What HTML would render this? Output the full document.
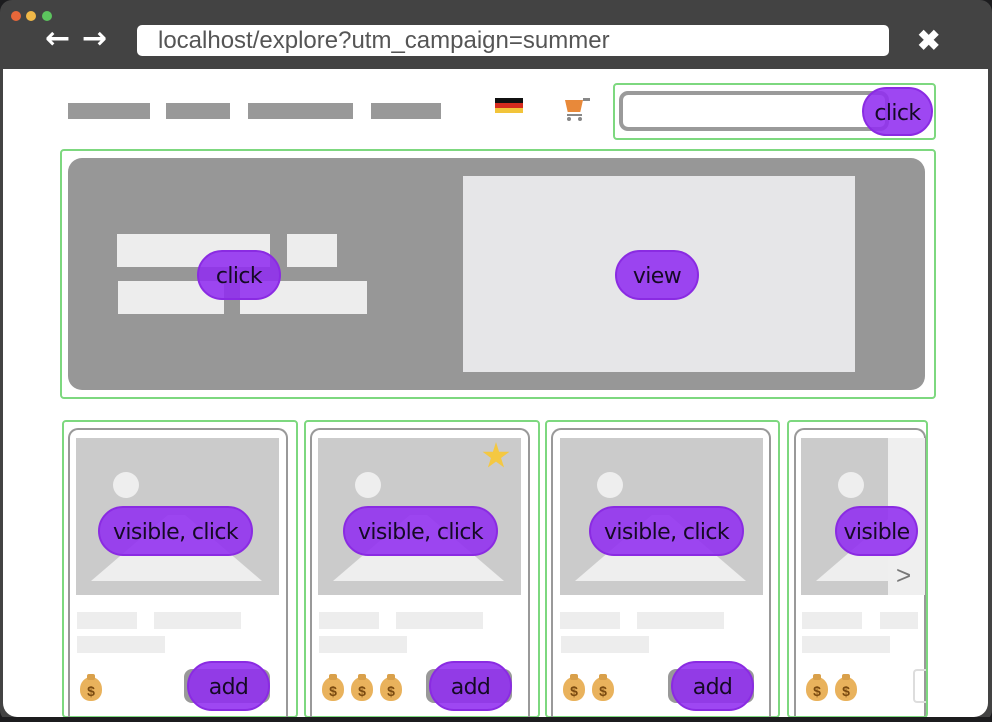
<!DOCTYPE html>
<html><head><meta charset="utf-8"><style>
*{margin:0;padding:0;box-sizing:border-box}
body{width:992px;height:722px;background:#1c1c1e;position:relative;overflow:hidden;font-family:"Liberation Sans",sans-serif}
div,span{position:absolute}
.g{border:2px solid #7dd87f;border-radius:4px}
.bar{background:#999}
.lt{background:#ededed}
.card{border:2px solid #999;border-bottom:none;border-radius:10px 10px 0 0;height:290px}
.pill{background:rgba(145,45,240,0.88);border:2px solid #8a2be2;border-radius:26px;color:#150a25;font-family:"DejaVu Sans","Liberation Sans",sans-serif;font-size:22px;display:flex;align-items:center;justify-content:center;letter-spacing:-0.6px;padding-top:3px}
.bag{width:22px;height:24px;background:#e9b25c;border-radius:50% 50% 45% 45%;color:#7a4a10;font-size:14px;font-weight:bold;display:flex;align-items:center;justify-content:center;padding-top:4px}
.bag:before{content:"";position:absolute;top:-3px;left:7px;width:8px;height:6px;background:#d9a04a;border-radius:2px}
.arr{color:#fff;font-size:30px;font-weight:bold;font-family:"DejaVu Sans",sans-serif}
</style></head><body>
<div style="left:0;top:0;width:992px;height:722px;background:#434343;border-radius:12px"></div>
<div style="left:11px;top:11px;width:10px;height:10px;border-radius:50%;background:#e8673a"></div>
<div style="left:26px;top:11px;width:10px;height:10px;border-radius:50%;background:#f0b848"></div>
<div style="left:42px;top:11px;width:10px;height:10px;border-radius:50%;background:#5cc45e"></div>
<div class="arr" style="left:45px;top:21px">&#8592;</div>
<div class="arr" style="left:82px;top:21px">&#8594;</div>
<div style="left:137px;top:25px;width:752px;height:31px;background:#fff;border-radius:5px"></div>
<div style="left:158px;top:27px;color:#555;font-size:24px">localhost/explore?utm_campaign=summer</div>
<div style="left:917px;top:24px;color:#fff;font-size:28px;font-weight:bold">&#10006;</div>
<div style="left:3px;top:69px;width:985px;height:648px;background:#fff;border-radius:0 0 14px 14px"></div>

<div class="bar" style="left:68px;top:103px;width:82px;height:16px"></div>
<div class="bar" style="left:166px;top:103px;width:64px;height:16px"></div>
<div class="bar" style="left:248px;top:103px;width:105px;height:16px"></div>
<div class="bar" style="left:371px;top:103px;width:70px;height:16px"></div>
<div style="left:495px;top:98px;width:28px;height:5px;background:#111"></div>
<div style="left:495px;top:103px;width:28px;height:5px;background:#d62b1e"></div>
<div style="left:495px;top:108px;width:28px;height:5px;background:#f2c43a"></div>
<div style="left:565px;top:100px;width:18px;height:12px;background:#e8893a;clip-path:polygon(0 0,100% 0,85% 100%,15% 100%)"></div>
<div style="left:583px;top:98px;width:7px;height:3px;background:#888"></div>
<div style="left:567px;top:114px;width:15px;height:2px;background:#888"></div>
<div style="left:567px;top:117px;width:4px;height:4px;border-radius:50%;background:#888"></div>
<div style="left:578px;top:117px;width:4px;height:4px;border-radius:50%;background:#888"></div>

<div class="g" style="left:613px;top:83px;width:323px;height:57px"></div>
<div style="left:619px;top:91px;width:270px;height:40px;border:4px solid #9a9a9a;border-radius:9px"></div>
<div class="pill" style="left:862px;top:87px;width:71px;height:49px">click</div>

<div class="g" style="left:60px;top:149px;width:876px;height:250px"></div>
<div style="left:68px;top:158px;width:857px;height:232px;background:#979797;border-radius:14px"></div>
<div style="left:463px;top:176px;width:392px;height:196px;background:#e6e6e8"></div>
<div class="lt" style="left:117px;top:234px;width:153px;height:33px"></div>
<div class="lt" style="left:287px;top:234px;width:50px;height:33px"></div>
<div class="lt" style="left:118px;top:281px;width:106px;height:33px"></div>
<div class="lt" style="left:240px;top:281px;width:127px;height:33px"></div>
<div class="pill" style="left:197px;top:250px;width:84px;height:50px">click</div>
<div class="pill" style="left:615px;top:250px;width:84px;height:50px">view</div>

<!-- card 1 -->
<div class="g" style="left:62px;top:420px;width:236px;height:298px"></div>
<div class="card" style="left:68px;top:428px;width:220px"></div>
<div style="left:76px;top:438px;width:203px;height:157px;background:#cbcbcb"></div>
<div style="left:113px;top:472px;width:26px;height:26px;border-radius:50%;background:#eee"></div>
<div style="left:91px;top:515px;width:171px;height:66px;background:#eee;clip-path:polygon(0 100%,45% 0,55% 0,100% 100%)"></div>
<div class="lt" style="left:77px;top:612px;width:60px;height:17px"></div>
<div class="lt" style="left:154px;top:612px;width:87px;height:17px"></div>
<div class="lt" style="left:77px;top:636px;width:88px;height:17px"></div>
<div class="bag" style="left:80px;top:677px">$</div>
<div style="left:184px;top:669px;width:86px;height:34px;background:#999;border-radius:8px"></div>
<div class="pill" style="left:187px;top:661px;width:83px;height:50px">add</div>
<div class="pill" style="left:98px;top:506px;width:155px;height:50px">visible, click</div>

<!-- card 2 -->
<div class="g" style="left:304px;top:420px;width:236px;height:298px"></div>
<div class="card" style="left:310px;top:428px;width:220px"></div>
<div style="left:318px;top:438px;width:203px;height:157px;background:#cbcbcb"></div>
<div style="left:355px;top:472px;width:26px;height:26px;border-radius:50%;background:#eee"></div>
<div style="left:333px;top:515px;width:171px;height:66px;background:#eee;clip-path:polygon(0 100%,45% 0,55% 0,100% 100%)"></div>
<div style="left:482px;top:442px;width:28px;height:28px;background:#f4c842;clip-path:polygon(50% 0,61% 35%,98% 35%,68% 57%,79% 91%,50% 70%,21% 91%,32% 57%,2% 35%,39% 35%)"></div>
<div class="lt" style="left:319px;top:612px;width:60px;height:17px"></div>
<div class="lt" style="left:396px;top:612px;width:87px;height:17px"></div>
<div class="lt" style="left:319px;top:636px;width:88px;height:17px"></div>
<div class="bag" style="left:322px;top:677px">$</div>
<div class="bag" style="left:351px;top:677px">$</div>
<div class="bag" style="left:380px;top:677px">$</div>
<div style="left:426px;top:669px;width:86px;height:34px;background:#999;border-radius:8px"></div>
<div class="pill" style="left:429px;top:661px;width:83px;height:50px">add</div>
<div class="pill" style="left:343px;top:506px;width:155px;height:50px">visible, click</div>

<!-- card 3 -->
<div class="g" style="left:545px;top:420px;width:235px;height:298px"></div>
<div class="card" style="left:551px;top:428px;width:220px"></div>
<div style="left:560px;top:438px;width:203px;height:157px;background:#cbcbcb"></div>
<div style="left:597px;top:472px;width:26px;height:26px;border-radius:50%;background:#eee"></div>
<div style="left:575px;top:515px;width:171px;height:66px;background:#eee;clip-path:polygon(0 100%,45% 0,55% 0,100% 100%)"></div>
<div class="lt" style="left:560px;top:612px;width:60px;height:17px"></div>
<div class="lt" style="left:637px;top:612px;width:87px;height:17px"></div>
<div class="lt" style="left:561px;top:636px;width:88px;height:17px"></div>
<div class="bag" style="left:563px;top:677px">$</div>
<div class="bag" style="left:592px;top:677px">$</div>
<div style="left:668px;top:669px;width:86px;height:34px;background:#999;border-radius:8px"></div>
<div class="pill" style="left:671px;top:661px;width:83px;height:50px">add</div>
<div class="pill" style="left:589px;top:506px;width:155px;height:50px">visible, click</div>

<!-- card 4 -->
<div class="card" style="left:794px;top:428px;width:132px"></div>
<div style="left:801px;top:438px;width:124px;height:157px;background:#cbcbcb;overflow:hidden">
  <div style="left:37px;top:34px;width:26px;height:26px;border-radius:50%;background:#eee"></div>
  <div style="left:15px;top:77px;width:171px;height:66px;background:#eee;clip-path:polygon(0 100%,45% 0,55% 0,100% 100%)"></div>
  <div style="left:87px;top:0;width:37px;height:157px;background:#efefef"></div>
  <div style="left:95px;top:122px;color:#777;font-size:26px">&gt;</div>
</div>
<div class="lt" style="left:802px;top:612px;width:60px;height:17px"></div>
<div class="lt" style="left:880px;top:612px;width:38px;height:17px"></div>
<div class="lt" style="left:802px;top:636px;width:88px;height:17px"></div>
<div class="bag" style="left:806px;top:677px">$</div>
<div class="bag" style="left:835px;top:677px">$</div>
<div style="left:913px;top:669px;width:14px;height:34px;border:2px solid #ddd;border-right:none;border-radius:4px 0 0 4px"></div>
<div class="pill" style="left:835px;top:506px;width:83px;height:50px">visible</div>
<div class="g" style="left:787px;top:420px;width:141px;height:298px"></div>
<div style="left:0;top:717px;width:992px;height:5px;background:#1c1c1e"></div>
</body></html>
